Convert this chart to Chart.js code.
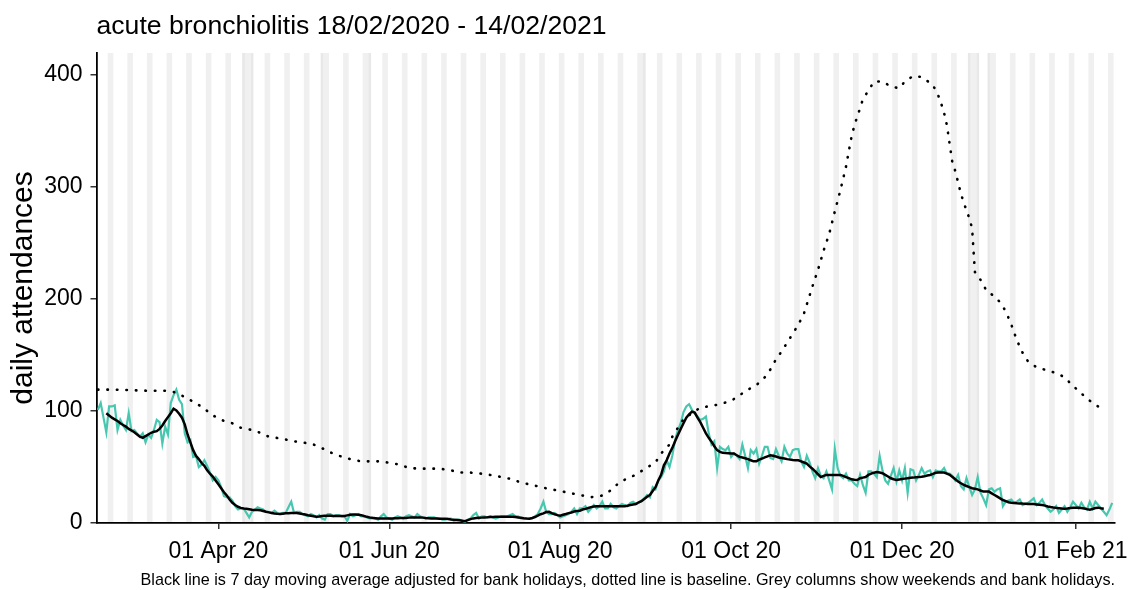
<!DOCTYPE html>
<html>
<head>
<meta charset="utf-8">
<script src="https://cdn.jsdelivr.net/npm/chart.js@4.4.1/dist/chart.umd.min.js"></script>
<style>
  html, body { margin: 0; padding: 0; background: #fff; }
  #wrap { position: relative; width: 1130px; height: 590px; }
</style>
</head>
<body>
<div id="wrap"><canvas id="chart"></canvas></div>
<script>
// First day of the series; every x value below is a day count from this date.
const startDate = '2020-02-18';
const endDate = '2021-02-14';

// Daily attendances, one value per day from 18/02/2020.
const dailyAttendances = [
  101, 107, 94, 81, 104, 104, 105, 83, 92, 87,
  83, 98, 82, 83, 80, 77, 80, 72, 79, 76,
  83, 92, 90, 71, 86, 79, 107, 114, 119, 110,
  106, 80, 72, 74, 59, 60, 50, 52, 56, 51,
  45, 38, 41, 38, 32, 24, 23, 23, 20, 15,
  12, 13, 13, 9, 5, 10, 12, 14, 13, 12,
  10, 10, 9, 11, 9, 8, 9, 9, 14, 19,
  9, 10, 10, 8, 7, 6, 8, 7, 5, 7,
  4, 3, 8, 8, 6, 7, 7, 6, 6, 2,
  8, 6, 7, 8, 6, 6, 5, 4, 4, 4,
  3, 6, 8, 5, 4, 3, 5, 6, 5, 4,
  6, 7, 6, 5, 8, 6, 5, 4, 5, 5,
  5, 4, 4, 3, 3, 4, 4, 2, 3, 3,
  2, 1, 3, 4, 7, 9, 4, 6, 6, 5,
  6, 5, 4, 5, 6, 6, 6, 7, 8, 6,
  6, 4, 4, 4, 4, 4, 6, 8, 13, 19,
  10, 8, 8, 9, 7, 5, 6, 7, 8, 10,
  13, 8, 13, 13, 15, 10, 13, 16, 13, 15,
  19, 13, 13, 17, 14, 13, 15, 17, 16, 15,
  18, 19, 17, 18, 20, 22, 25, 23, 32, 30,
  38, 41, 46, 56, 50, 60, 74, 83, 89, 99,
  104, 106, 101, 98, 95, 92, 93, 95, 80, 70,
  73, 49, 68, 66, 65, 68, 59, 62, 60, 57,
  70, 60, 49, 65, 62, 66, 53, 60, 68, 68,
  58, 57, 66, 60, 55, 68, 62, 59, 65, 66,
  66, 55, 50, 60, 54, 46, 40, 49, 42, 40,
  46, 38, 30, 66, 49, 42, 40, 44, 38, 38,
  35, 33, 43, 34, 27, 46, 46, 44, 41, 60,
  47, 38, 35, 42, 49, 37, 47, 38, 49, 27,
  48, 47, 38, 43, 49, 44, 46, 47, 41, 47,
  46, 46, 49, 44, 44, 42, 38, 43, 33, 30,
  40, 32, 25, 30, 41, 27, 22, 16, 30, 31,
  28, 30, 31, 15, 19, 20, 21, 18, 19, 21,
  16, 17, 18, 20, 22, 16, 18, 21, 16, 13,
  10, 12, 15, 9, 12, 15, 10, 14, 19, 16,
  13, 18, 14, 12, 19, 13, 19, 16, 13, 10,
  7, 12, 18
];

// 7 day moving average (adjusted for bank holidays), centred, so it starts on day 3.
const movingAverageStartDay = 3;
const movingAverage = [
  98, 96, 94, 92.5, 91, 89, 87.5, 86, 84, 82.5,
  81, 79, 77, 76, 77.5, 79, 80.5, 81.5, 82, 84,
  87, 91, 94.5, 98, 102, 100.5, 97.5, 94, 88, 79,
  72, 65, 60, 57, 53.5, 51, 47, 44, 41.5, 38,
  34.5, 31, 27.5, 24.5, 21, 18, 16, 14.5, 13.5, 13,
  12.8, 12.3, 11.8, 11.6, 11.6, 11.4, 10.7, 10, 9.5, 9,
  8.5, 8.2, 8, 8.3, 8.6, 8.8, 9, 9, 9, 8.5,
  8, 7.6, 7, 6.5, 6, 5.6, 5.8, 6.2, 6.5, 6.5,
  6.4, 6.3, 6.2, 6.2, 6.2, 6.3, 6.8, 7.3, 7.6, 7.6,
  7.3, 7, 6.2, 5.5, 5, 4.6, 4.3, 4, 4, 4,
  4, 4, 4, 4.2, 4.3, 4.4, 4.4, 4.5, 4.8, 5,
  5, 5, 5, 4.8, 4.5, 4.3, 4.1, 4, 4, 3.9,
  3.9, 3.9, 3.5, 3.2, 3, 2.7, 2.4, 2, 1.6, 2.5,
  3.5, 4.1, 4.4, 4.6, 4.8, 5, 5.1, 5.3, 5.4, 5.5,
  5.6, 5.6, 5.6, 5.6, 5.6, 5.6, 5.3, 5, 4.6, 4.2,
  4, 3.9, 4.5, 5.3, 6.5, 7.8, 8.6, 9.8, 10, 8.8,
  7.8, 7, 6.5, 7.3, 8, 8.8, 9.4, 10.2, 10.8, 11,
  12, 12.6, 13.4, 14.2, 14.8, 15, 15, 15, 15, 15,
  15, 15, 15, 15, 15, 15, 15.4, 16, 16.5, 17,
  18.5, 19.5, 21.5, 23.5, 25, 28.5, 32, 38, 43, 51.5,
  56, 62, 67, 73, 78.5, 84, 89, 94, 97, 99.4,
  98.5, 94, 90, 85, 80, 76, 72.6, 68.5, 65, 63.5,
  62.6, 62.5, 62.3, 62, 62, 60.5, 59, 58.5, 57.8, 57,
  56, 55, 55, 56.5, 57.5, 58.5, 59.5, 60.5, 60, 59.3,
  58.5, 58, 57.5, 57, 56.6, 56.3, 56.1, 56, 55, 54,
  53, 50.5, 48.5, 46, 43.5, 41, 42, 42.9, 42.9, 42.9,
  42.9, 42.9, 42.9, 42, 41, 40, 39, 38.6, 38.4, 39.9,
  40.5, 41, 42.9, 44, 44.9, 45.5, 45, 44.4, 43, 41.5,
  39.9, 39, 38.4, 38.8, 39.2, 39.6, 40, 40.3, 40.5, 40.8,
  41, 41.3, 41.8, 42.4, 42.9, 43.8, 44.8, 45, 45, 45,
  44, 43, 41, 39, 37, 35.5, 34, 33, 32, 31,
  30.5, 30, 29, 28, 28, 28, 26.5, 25, 23.5, 22,
  20.5, 19.5, 18.5, 18, 17.8, 17.6, 17.5, 17.3, 17.2, 17,
  17, 16.9, 16.6, 16.3, 16, 15.5, 14.8, 14.2, 13.8, 13.5,
  13.2, 12.9, 12.8, 13, 13.3, 13.7, 13.6, 13.5, 13.4, 13,
  12.4, 11.9, 12.5, 13.4, 13.7, 13.2, 12.8
];

// Baseline (expected attendances): day count from startDate and value.
const baselineDay = [
  0, 6, 12, 18, 24, 27, 29, 32, 35, 38, 41, 45, 48, 51, 55, 58, 61, 65, 69, 72,
  76, 79, 83, 86, 90, 94, 101, 108, 111, 115, 122, 126, 129, 133, 137, 141, 144, 148, 151, 155,
  158, 162, 166, 169, 173, 176, 180, 183, 186, 189, 192, 195, 199, 201, 204, 205, 207, 209, 212, 215,
  219, 222, 226, 229, 232, 235, 238, 240, 242, 244, 246, 248, 250, 252, 253, 255, 257, 259, 261, 263,
  265, 267, 268, 269, 270, 272, 273, 275, 277, 280, 283, 286, 288, 291, 294, 298, 300, 301, 302, 303,
  304, 305, 306, 308, 309, 310, 311, 312, 313, 315, 317, 320, 322, 324, 326, 328, 330, 332, 335, 339,
  343, 346, 347, 350, 353, 356, 359
];
const baselineValue = [
  119, 119, 118.5, 118, 118, 117, 115, 111, 107, 102, 96, 91, 89, 85, 83, 80.5, 77, 75.5, 73.5, 72,
  71, 68, 63, 60, 57, 55, 55, 52, 49, 48.5, 48.5, 47, 45, 45, 44, 42.5, 41, 39, 36, 34,
  32, 30, 28, 26.5, 24.5, 23, 24.5, 29, 36, 40, 43, 48, 54, 62, 70, 77, 85, 92.5, 98, 103,
  104.5, 106, 109, 114, 119, 123, 130, 137, 146, 153, 161, 169, 177, 187, 195, 211, 226, 243, 258, 278,
  297, 318, 332, 345, 355, 370, 378, 386, 394, 394, 389.5, 388, 394, 399, 398, 391, 381, 374, 366, 355,
  338, 321, 314, 294, 286, 279, 272, 263, 224, 217, 208, 202, 197, 189, 177, 163, 152, 144, 139, 136,
  133, 128, 124.5, 118, 111, 105.5, 101
];

// Bank holidays in England and Wales within the period.
const bankHolidays = [
  '2020-04-10', '2020-04-13', '2020-05-08', '2020-05-25',
  '2020-08-31', '2020-12-25', '2020-12-28', '2021-01-01'
];

const xTickDates = ['2020-04-01', '2020-06-01', '2020-08-01', '2020-10-01', '2020-12-01', '2021-02-01'];
const xTickLabels = ['01 Apr 20', '01 Jun 20', '01 Aug 20', '01 Oct 20', '01 Dec 20', '01 Feb 21'];
const yTickValues = [0, 100, 200, 300, 400];

const DAY_MS = 86400000;
const t0 = Date.parse(startDate + 'T00:00:00Z');
const dayIndex = s => Math.round((Date.parse(s + 'T00:00:00Z') - t0) / DAY_MS);
const lastDay = dayIndex(endDate);

// Saturdays and Sundays in the period
const weekendDays = [];
for (let d = 0; d <= lastDay; d++) {
  const dow = new Date(t0 + d * DAY_MS).getUTCDay();
  if (dow === 0 || dow === 6) weekendDays.push(d);
}
const holidayDays = bankHolidays.map(dayIndex);

// Group consecutive days into runs so each column is one rectangle
function toRuns(days) {
  const sorted = [...days].sort((a, b) => a - b);
  const runs = [];
  for (const d of sorted) {
    const last = runs[runs.length - 1];
    if (last && d === last[1] + 1) last[1] = d; else runs.push([d, d]);
  }
  return runs;
}

// Grey day columns, painted before the axes so the axis lines stay on top
const dayColumns = {
  id: 'dayColumns',
  beforeDraw(chart) {
    const { ctx, chartArea, scales: { x } } = chart;
    ctx.save();
    ctx.beginPath();
    ctx.rect(chartArea.left, chartArea.top, chartArea.right - chartArea.left, chartArea.bottom - chartArea.top);
    ctx.clip();
    const paint = (days, colour) => {
      ctx.fillStyle = colour;
      for (const [a, b] of toRuns(days)) {
        const x0 = x.getPixelForValue(a - 0.5);
        const x1 = x.getPixelForValue(b + 0.5);
        ctx.fillRect(x0, chartArea.top, x1 - x0, chartArea.bottom - chartArea.top);
      }
    };
    paint(weekendDays, '#f0f0f0');
    paint(holidayDays, '#e8e8e8');
    ctx.restore();
  }
};

Chart.defaults.font.family = "'Liberation Sans', Arial, Helvetica, sans-serif";
Chart.defaults.color = '#000';

const axisGrid = { drawOnChartArea: false, drawTicks: true, tickLength: 6, color: '#333', lineWidth: 1.5 };
const axisBorder = { display: true, color: '#000', width: 1.8 };

new Chart(document.getElementById('chart'), {
  type: 'line',
  data: {
    datasets: [
      {
        label: 'baseline',
        data: baselineDay.map((d, i) => ({ x: d, y: baselineValue[i] })),
        borderColor: '#000',
        borderWidth: 2.6,
        borderDash: [0.5, 9],
        borderCapStyle: 'round',
        pointRadius: 0,
        fill: false,
        order: 1
      },
      {
        label: '7 day moving average',
        data: movingAverage.map((v, i) => ({ x: i + movingAverageStartDay, y: v })),
        borderColor: '#000',
        borderWidth: 2.5,
        pointRadius: 0,
        fill: false,
        order: 2
      },
      {
        label: 'daily attendances',
        data: dailyAttendances.map((v, i) => ({ x: i, y: v })),
        borderColor: '#48c7b0',
        borderWidth: 2.2,
        pointRadius: 0,
        fill: false,
        order: 3
      }
    ]
  },
  options: {
    responsive: true,
    maintainAspectRatio: false,
    animation: false,
    layout: { padding: { left: 0, right: 15, top: 0, bottom: 0 } },
    plugins: {
      legend: { display: false },
      tooltip: { enabled: false },
      title: {
        display: true,
        text: 'acute bronchiolitis 18/02/2020 - 14/02/2021',
        align: 'start',
        fullSize: false,
        color: '#000',
        font: { size: 26.6, weight: 'normal' },
        padding: { top: 10.5, bottom: 10.5 }
      }
    },
    scales: {
      x: {
        type: 'linear',
        min: -0.5,
        max: 363,
        afterBuildTicks: s => { s.ticks = xTickDates.map(d => ({ value: dayIndex(d) })); },
        afterFit: s => { s.height = 67; s.paddingLeft = 0; s.paddingRight = 0; },
        ticks: {
          callback: (v, i) => xTickLabels[i],
          font: { size: 23 },
          color: '#000',
          padding: 8.5,
          maxRotation: 0,
          autoSkip: false
        },
        grid: axisGrid,
        border: axisBorder,
        title: {
          display: true,
          text: 'Black line is 7 day moving average adjusted for bank holidays, dotted line is baseline. Grey columns show weekends and bank holidays.',
          align: 'end',
          color: '#000',
          font: { size: 16.2 },
          padding: { top: 0, bottom: 0 }
        }
      },
      y: {
        type: 'linear',
        min: 0,
        max: 419.5,
        afterBuildTicks: s => { s.ticks = yTickValues.map(v => ({ value: v })); },
        afterFit: s => { s.width = 96.5; },
        ticks: { font: { size: 23 }, color: '#000', padding: 8 },
        grid: axisGrid,
        border: axisBorder,
        title: {
          display: true,
          text: 'daily attendances',
          color: '#000',
          font: { size: 30 },
          padding: { top: 6, bottom: 0 }
        }
      }
    }
  },
  plugins: [dayColumns]
});
</script>
</body>
</html>
